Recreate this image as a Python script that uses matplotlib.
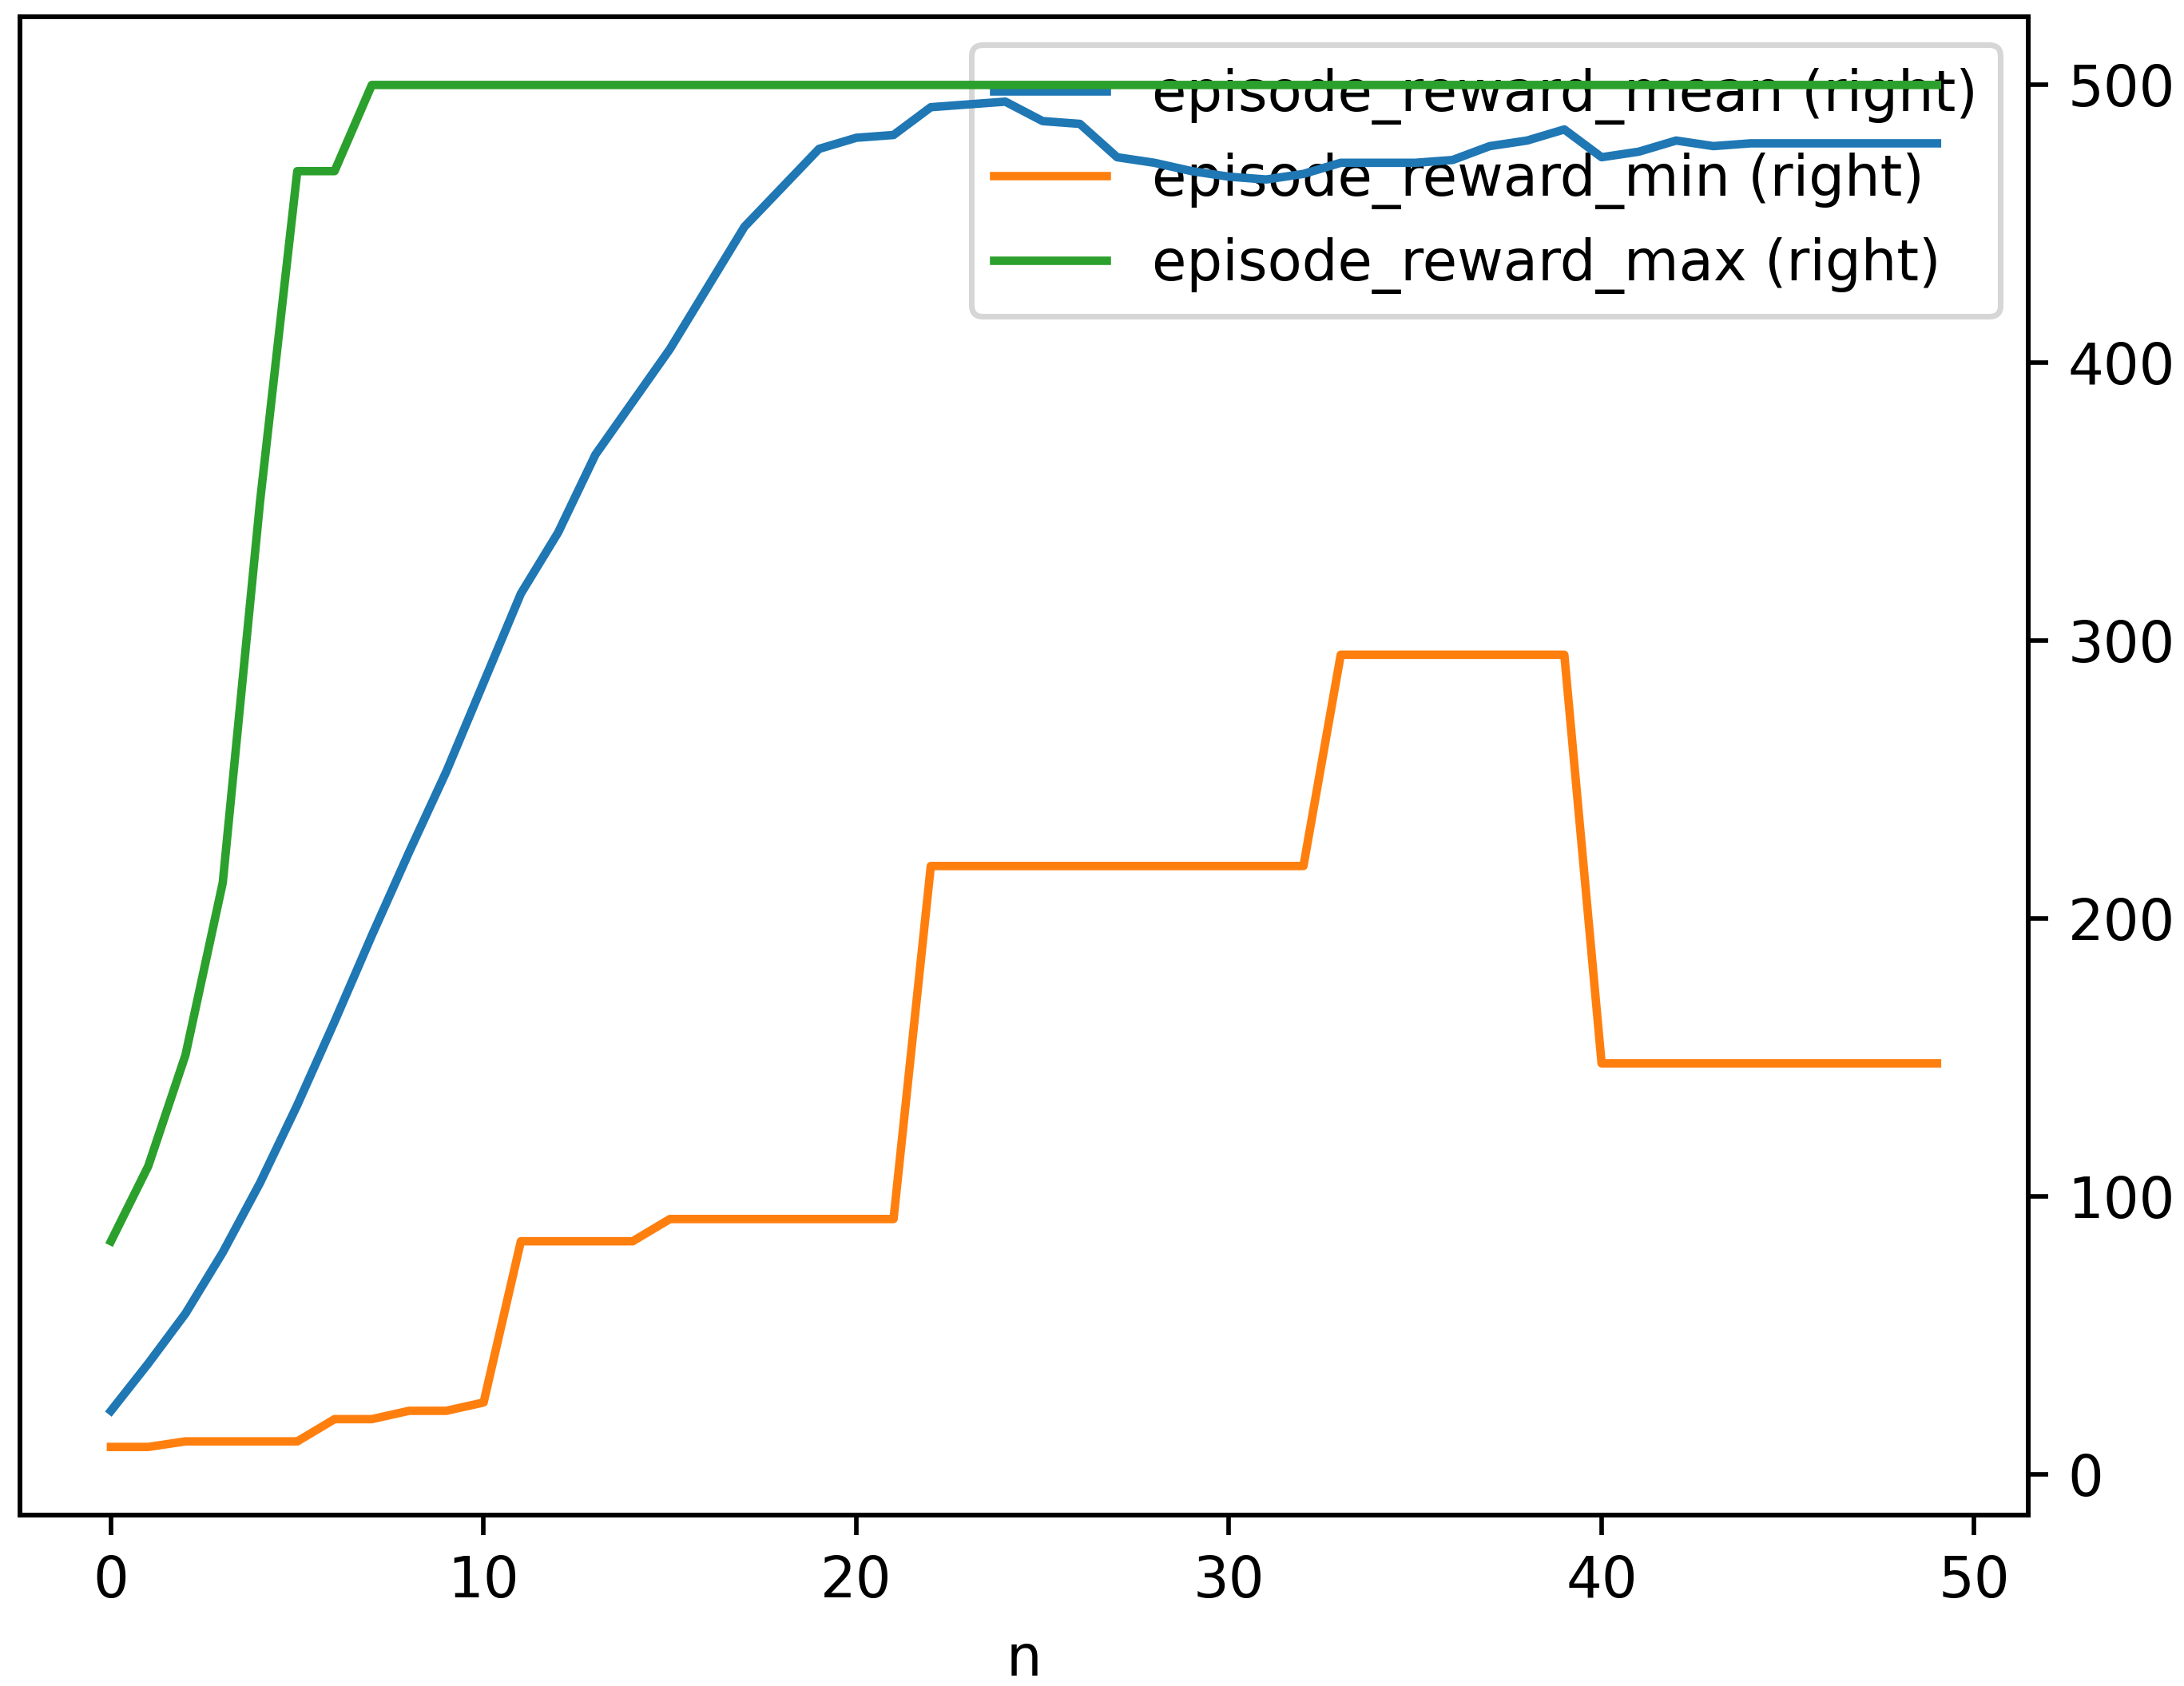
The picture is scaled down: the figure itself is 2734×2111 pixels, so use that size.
import matplotlib
matplotlib.use('Agg')
import matplotlib.pyplot as plt
import numpy as np

# valores (iterações 0..49)
n = np.arange(50)

reward_mean = [23, 40, 58, 80, 105, 133, 163, 194, 224, 253,
               285, 317, 339, 367, 386, 405, 427, 449, 463, 477,
               481, 482, 492, 493, 494, 487, 486, 474, 472, 469,
               467, 466, 468, 472, 472, 472, 473, 478, 480, 484,
               474, 476, 480, 478, 479, 479, 479, 479, 479, 479]

reward_min = [10, 10, 12, 12, 12, 12, 20, 20, 23, 23,
              26, 84, 84, 84, 84, 92, 92, 92, 92, 92,
              92, 92, 219, 219, 219, 219, 219, 219, 219, 219,
              219, 219, 219, 295, 295, 295, 295, 295, 295, 295,
              148, 148, 148, 148, 148, 148, 148, 148, 148, 148]

reward_max = [84, 111, 151, 213, 350, 469, 469, 500, 500, 500] + [500] * 40

labels = ['episode_reward_mean (right)',
          'episode_reward_min (right)',
          'episode_reward_max (right)']

DPI = 508
fig = plt.figure(figsize=(2734 / DPI, 2111 / DPI), dpi=DPI)
ax = fig.add_axes([0.009, 0.1014, 0.9197, 0.8886])
ax.set_yticks([])
ax2 = ax.twinx()

l1, = ax2.plot(n, reward_mean, color='#1f77b4')
l2, = ax2.plot(n, reward_min, color='#ff7f0e')
l3, = ax2.plot(n, reward_max, color='#2ca02c')

ax.set_xlim(ax2.get_xlim())
ax.set_xlabel('n')
ax.legend([l1, l2, l3], labels, loc='upper right')

fig.savefig('out.png', dpi=DPI)
